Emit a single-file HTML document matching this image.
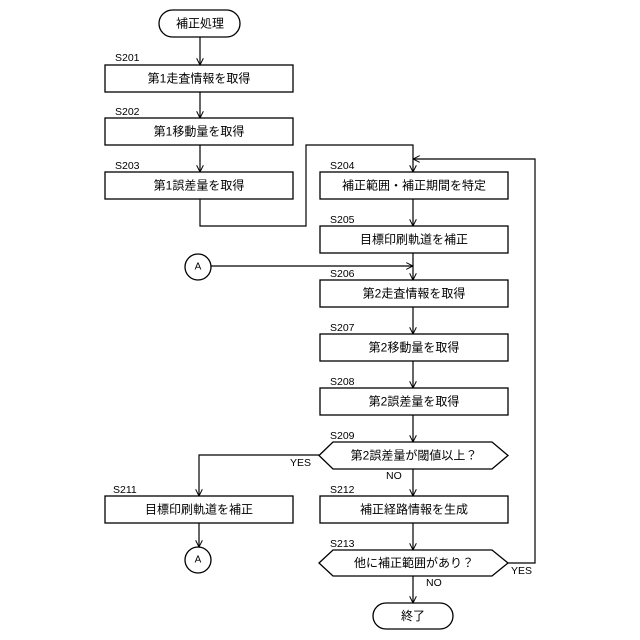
<!DOCTYPE html>
<html><head><meta charset="utf-8"><style>
html,body{margin:0;padding:0;background:#fff;}
svg{display:block;}
text{font-family:"Liberation Sans","Noto Sans CJK JP",sans-serif;fill:#000;}
.b{fill:#fff;stroke:#000;stroke-width:1.3;}
.l{fill:none;stroke:#000;stroke-width:1.2;}
.t{font-size:12px;text-anchor:middle;dominant-baseline:central;}
.s{font-size:10.5px;}
</style></head><body>
<svg width="640" height="640" viewBox="0 0 640 640">
<defs><marker id="a" viewBox="0 0 10 10" refX="10" refY="5" markerWidth="7" markerHeight="7" orient="auto" markerUnits="userSpaceOnUse"><path d="M0,0 L10,5 L0,10" fill="none" stroke="#000" stroke-width="1.4"/></marker></defs>

<!-- start -->
<rect class="b" x="159" y="10" width="81" height="27" rx="13.5"/>
<text class="t" x="200" y="23.5">補正処理</text>
<line class="l" x1="200" y1="37" x2="200" y2="65" marker-end="url(#a)"/>

<text class="s" x="115" y="61">S201</text>
<rect class="b" x="105" y="65" width="188" height="27"/>
<text class="t" x="199" y="78.5">第1走査情報を取得</text>
<line class="l" x1="200" y1="92" x2="200" y2="118" marker-end="url(#a)"/>

<text class="s" x="115" y="115">S202</text>
<rect class="b" x="105" y="118" width="188" height="27"/>
<text class="t" x="199" y="131.5">第1移動量を取得</text>
<line class="l" x1="200" y1="145" x2="200" y2="172" marker-end="url(#a)"/>

<text class="s" x="115" y="169">S203</text>
<rect class="b" x="105" y="172" width="188" height="27"/>
<text class="t" x="199" y="185.5">第1誤差量を取得</text>
<polyline class="l" points="200,199 200,226 306,226 306,145 413,145 413,172" marker-end="url(#a)"/>

<text class="s" x="330" y="169">S204</text>
<rect class="b" x="320" y="172" width="188" height="27"/>
<text class="t" x="414" y="185.5">補正範囲・補正期間を特定</text>
<line class="l" x1="413" y1="199" x2="413" y2="226" marker-end="url(#a)"/>

<text class="s" x="330" y="223">S205</text>
<rect class="b" x="320" y="226" width="188" height="27"/>
<text class="t" x="414" y="239.5">目標印刷軌道を補正</text>
<line class="l" x1="413" y1="253" x2="413" y2="280" marker-end="url(#a)"/>

<circle class="b" cx="198" cy="267" r="13"/>
<text class="t" x="198" y="267" style="font-size:10px">A</text>
<line class="l" x1="211" y1="266" x2="413" y2="266" marker-end="url(#a)"/>

<text class="s" x="330" y="277">S206</text>
<rect class="b" x="320" y="280" width="188" height="27"/>
<text class="t" x="414" y="293.5">第2走査情報を取得</text>
<line class="l" x1="413" y1="307" x2="413" y2="334" marker-end="url(#a)"/>

<text class="s" x="330" y="331">S207</text>
<rect class="b" x="320" y="334" width="188" height="27"/>
<text class="t" x="414" y="347.5">第2移動量を取得</text>
<line class="l" x1="413" y1="361" x2="413" y2="388" marker-end="url(#a)"/>

<text class="s" x="330" y="385">S208</text>
<rect class="b" x="320" y="388" width="188" height="27"/>
<text class="t" x="414" y="401.5">第2誤差量を取得</text>
<line class="l" x1="413" y1="415" x2="413" y2="442" marker-end="url(#a)"/>

<text class="s" x="330" y="439">S209</text>
<polygon class="b" points="319,455.5 333,442 492,442 508,455.5 492,469 333,469"/>
<text class="t" x="414" y="455.5">第2誤差量が閾値以上？</text>
<polyline class="l" points="319,455 199,455 199,496" marker-end="url(#a)"/>
<text class="s" x="290" y="466">YES</text>
<line class="l" x1="413" y1="469" x2="413" y2="496" marker-end="url(#a)"/>
<text class="s" x="386" y="479">NO</text>

<text class="s" x="113" y="493">S211</text>
<rect class="b" x="105" y="496" width="188" height="27"/>
<text class="t" x="199" y="509.5">目標印刷軌道を補正</text>
<line class="l" x1="199" y1="523" x2="199" y2="547" marker-end="url(#a)"/>
<circle class="b" cx="198" cy="560" r="13"/>
<text class="t" x="198" y="560" style="font-size:10px">A</text>

<text class="s" x="330" y="493">S212</text>
<rect class="b" x="320" y="496" width="188" height="27"/>
<text class="t" x="414" y="509.5">補正経路情報を生成</text>
<line class="l" x1="413" y1="523" x2="413" y2="550" marker-end="url(#a)"/>

<text class="s" x="330" y="547">S213</text>
<polygon class="b" points="319,563 333,550 492,550 508,563 492,576 333,576"/>
<text class="t" x="414" y="563">他に補正範囲があり？</text>
<polyline class="l" points="508,563 535,563 535,159 413,159" marker-end="url(#a)"/>
<text class="s" x="511" y="574">YES</text>
<line class="l" x1="413" y1="576" x2="413" y2="603" marker-end="url(#a)"/>
<text class="s" x="426" y="586">NO</text>

<rect class="b" x="373" y="603" width="80" height="26" rx="13"/>
<text class="t" x="413" y="616">終了</text>
</svg>
</body></html>
